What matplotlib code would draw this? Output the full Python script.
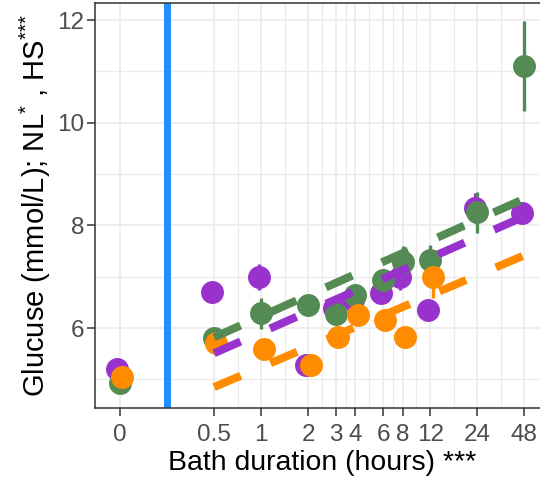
import numpy as np
import matplotlib
matplotlib.use("Agg")
import matplotlib.pyplot as plt

plt.rcParams["font.family"] = ["Liberation Sans", "DejaVu Sans"]
plt.rcParams["mathtext.fontset"] = "custom"
plt.rcParams["mathtext.rm"] = "Liberation Sans"

# bath duration in hours; 0 is drawn at 0.125 on the log2 axis
hours = [0, 0.5, 1, 2, 3, 4, 6, 8, 12, 24, 48]
tick_labels = ["0", "0.5", "1", "2", "3", "4", "6", "8", "12", "24", "48"]

groups = ["purple", "green", "orange"]
colors = {"purple": "#9932CC", "green": "#548B54", "orange": "#FF8C00"}

glucose = {
    "purple": [5.20, 6.70, 6.99, 5.28, 6.40, 6.55, 6.68, 7.00, 6.35, 8.34, 8.24],
    "green":  [4.93, 5.80, 6.29, 6.45, 6.27, 6.65, 6.93, 7.29, 7.32, 8.26, 11.10],
    "orange": [5.04, 5.71, 5.59, 5.28, 5.82, 6.25, 6.16, 5.82, 7.00, np.nan, np.nan],
}
sem = {
    "purple": [0.05, 0.10, 0.25, 0.15, 0.10, 0.20, 0.20, 0.25, 0.20, 0.30, 0.20],
    "green":  [0.05, 0.10, 0.30, 0.10, 0.15, 0.20, 0.20, 0.30, 0.30, 0.40, 0.88],
    "orange": [0.05, 0.10, 0.10, 0.15, 0.10, 0.15, 0.15, 0.10, 0.42, np.nan, np.nan],
}
# fitted lines: value at 0.5 h and rise per doubling of time
fit_start = {"purple": 5.51, "green": 5.82, "orange": 4.85}
fit_slope = {"purple": 0.405, "green": 0.41, "orange": 0.39}
fit_range = [0.5, 48]

dodge = {"purple": -0.05, "green": 0.0, "orange": 0.05}

x_pos = np.array([0.125 if h == 0 else h for h in hours], dtype=float)

fig = plt.figure(figsize=(5.4, 4.83), dpi=100)
ax = fig.add_axes([0.176, 0.155, 0.841, 0.8385])
ax.set_xscale("log", base=2)

for g in groups:
    xs = x_pos * 2 ** dodge[g]
    ax.errorbar(xs, glucose[g], yerr=sem[g], fmt="o", color=colors[g],
                markersize=15.5, elinewidth=2.4, capsize=0, zorder=3)

for g in groups:
    xl = np.array(fit_range, dtype=float)
    yl = fit_start[g] + fit_slope[g] * np.log2(xl / fit_range[0])
    ln, = ax.plot(xl, yl, color=colors[g], lw=5.8, zorder=4,
                  solid_capstyle="butt", dash_capstyle="butt")
    ln.set_dashes([3.6, 4.0])

ax.axvline(0.25, color="#1E90FF", lw=5, zorder=2)

ax.set_xlim(2 ** -3.525, 2 ** 6.11)
ax.set_ylim(4.44, 12.33)

ax.set_xticks(x_pos)
ax.set_xticklabels(tick_labels)
ax.set_xticks(np.sqrt(x_pos[:-1] * x_pos[1:]), minor=True)
ax.xaxis.set_minor_formatter(matplotlib.ticker.NullFormatter())
ax.set_yticks([6, 8, 10, 12])
ax.set_yticks([5, 7, 9, 11], minor=True)

ax.grid(True, which="major", color="#EBEBEB", lw=1.2, zorder=0)
ax.grid(True, which="minor", color="#EBEBEB", lw=0.9, zorder=0)
ax.set_axisbelow(True)

ax.tick_params(which="major", length=5.5, width=1.1, color="#333333",
               labelsize=17.5, labelcolor="#4D4D4D", pad=2.5)
ax.tick_params(axis="x", which="major", pad=6)
ax.tick_params(which="minor", length=0)
for s in ax.spines.values():
    s.set_color("#333333")
    s.set_linewidth(1.1)

ax.set_xlabel("Bath duration (hours) ***", fontsize=20.4, labelpad=3)
ax.set_ylabel("Glucuse (mmol/L); NL$^{{*}}$ , HS$^{{*}{*}{*}}$",
              fontsize=21, labelpad=3)

fig.savefig("out.png", dpi=100)
